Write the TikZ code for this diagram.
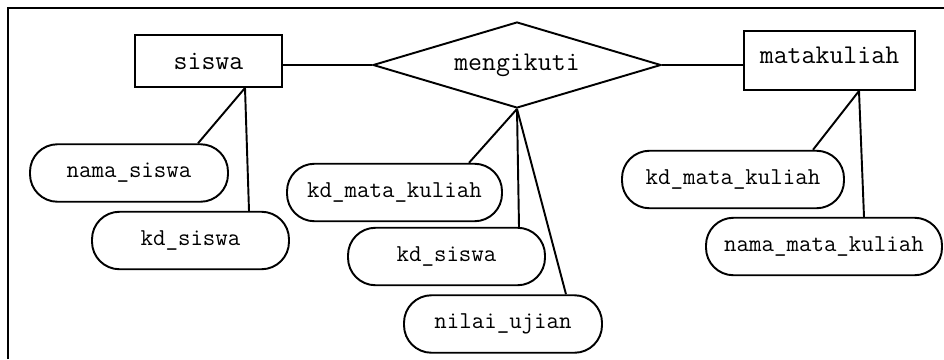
\documentclass[tikz,border=0pt]{standalone}
\usepackage{fontspec}
\usetikzlibrary{shapes.geometric}

\begin{document}
\begin{tikzpicture}[line width=1.1pt,
    entity/.style={draw, rectangle, inner sep=0pt, font=\ttfamily\fontsize{15.4}{18}\selectfont},
    relation/.style={draw, diamond, aspect=3.35, inner sep=0pt, font=\ttfamily\fontsize{15.4}{18}\selectfont},
    attrib/.style={draw, rectangle, rounded corners=0.55cm, inner sep=0pt, minimum height=1.15cm, font=\ttfamily\fontsize{13.8}{16}\selectfont}]

    % 1. Canvas and the (cut off) frame
    \useasboundingbox (0,0) rectangle (18.88,7.18);
    \draw[line width=1.5pt] (0.16,0) -- (0.16,7.02) -- (18.88,7.02);

    % 2. Entities and the relation
    \node[entity, minimum width=2.94cm, minimum height=1.04cm] (siswa) at (4.17,5.96) {siswa};
    \node[relation, minimum width=5.76cm, minimum height=1.72cm] (ikut) at (10.34,5.88) {mengikuti};
    \node[entity, minimum width=3.42cm, minimum height=1.18cm, text depth=0.22cm] (matkul) at (16.59,5.97) {matakuliah};

    % 3. Attributes of siswa
    \node[attrib, minimum width=3.96cm] (namasiswa) at (2.58,3.72) {nama\_siswa};
    \node[attrib, minimum width=3.94cm] (kdsiswa) at (3.81,2.37) {kd\_siswa};

    % 4. Attributes of mengikuti
    \node[attrib, minimum width=4.30cm] (ikutkdmk) at (7.89,3.33) {kd\_mata\_kuliah};
    \node[attrib, minimum width=3.94cm] (ikutkdsiswa) at (8.93,2.05) {kd\_siswa};
    \node[attrib, minimum width=3.96cm] (nilai) at (10.06,0.70) {nilai\_ujian};

    % 5. Attributes of matakuliah
    \node[attrib, minimum width=4.44cm] (kdmk) at (14.66,3.59) {kd\_mata\_kuliah};
    \node[attrib, minimum width=4.72cm] (namamk) at (16.48,2.25) {nama\_mata\_kuliah};

    % 6. Relation lines
    \draw (siswa.east |- ikut.west) -- (ikut.west);
    \draw (ikut.east) -- (matkul.west |- ikut.east);

    % 7. Attribute lines (each group leaves from one point)
    \coordinate (siswaB) at ([xshift=0.73cm]siswa.south);
    \draw (siswaB) -- ([xshift=1.38cm]namasiswa.north);
    \draw (siswaB) -- ([xshift=1.17cm]kdsiswa.north);

    \draw (ikut.south) -- ([xshift=1.49cm]ikutkdmk.north);
    \draw (ikut.south) -- ([xshift=1.45cm]ikutkdsiswa.north);
    \draw (ikut.south) -- ([xshift=1.26cm]nilai.north);

    \coordinate (matkulB) at ([xshift=0.59cm]matkul.south);
    \draw (matkulB) -- ([xshift=1.6cm]kdmk.north);
    \draw (matkulB) -- ([xshift=0.8cm]namamk.north);

\end{tikzpicture}
\end{document}
